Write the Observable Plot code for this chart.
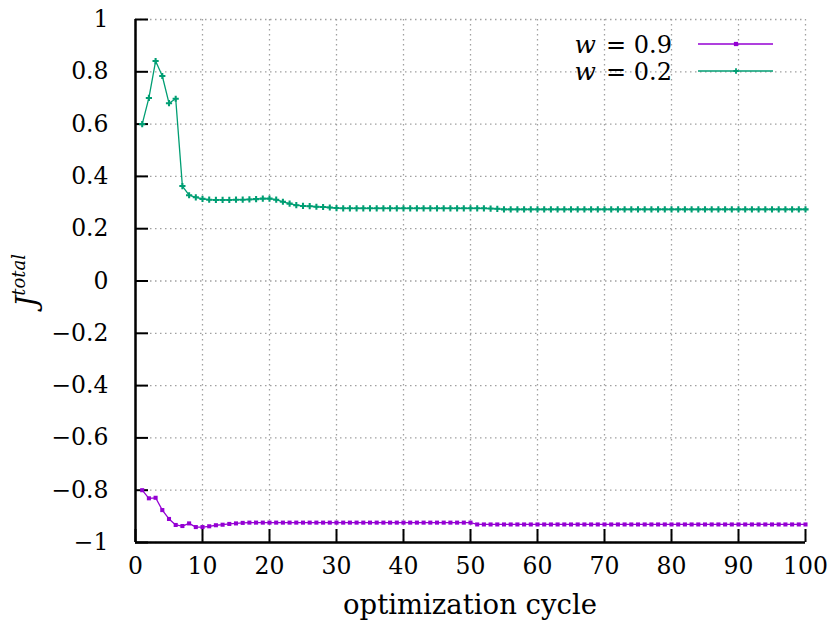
<!DOCTYPE html>
<html>
<head>
<meta charset="utf-8">
<script src="https://cdn.jsdelivr.net/npm/d3@7"></script>
<script src="https://cdn.jsdelivr.net/npm/@observablehq/plot@0.6"></script>
<style>
  html, body { margin: 0; padding: 0; background: #fff; }
</style>
</head>
<body>
<script>
// ---- data ----
const cycles = [
  1,2,3,4,5,6,7,8,9,10,11,12,13,14,15,16,17,18,19,20,
  21,22,23,24,25,26,27,28,29,30,31,32,33,34,35,36,37,38,39,40,
  41,42,43,44,45,46,47,48,49,50,51,52,53,54,55,56,57,58,59,60,
  61,62,63,64,65,66,67,68,69,70,71,72,73,74,75,76,77,78,79,80,
  81,82,83,84,85,86,87,88,89,90,91,92,93,94,95,96,97,98,99,100
];
const seriesW09 = [
  -0.800,-0.831,-0.829,-0.876,-0.910,-0.933,-0.937,-0.927,-0.941,-0.941,
  -0.938,-0.934,-0.932,-0.929,-0.927,-0.925,-0.924,-0.924,-0.924,-0.924,
  -0.924,-0.924,-0.924,-0.924,-0.924,-0.924,-0.924,-0.924,-0.924,-0.924,
  -0.924,-0.924,-0.924,-0.924,-0.924,-0.924,-0.924,-0.924,-0.924,-0.924,
  -0.924,-0.924,-0.924,-0.924,-0.924,-0.924,-0.924,-0.924,-0.924,-0.924,
  -0.931,-0.931,-0.931,-0.931,-0.931,-0.931,-0.931,-0.931,-0.931,-0.931,
  -0.931,-0.931,-0.931,-0.931,-0.931,-0.931,-0.931,-0.931,-0.931,-0.931,
  -0.931,-0.931,-0.931,-0.931,-0.931,-0.931,-0.931,-0.931,-0.931,-0.931,
  -0.931,-0.931,-0.931,-0.931,-0.931,-0.931,-0.931,-0.931,-0.931,-0.931,
  -0.931,-0.931,-0.931,-0.931,-0.931,-0.931,-0.931,-0.931,-0.931,-0.931
];
const seriesW02 = [
  0.600,0.700,0.841,0.784,0.680,0.697,0.363,0.328,0.320,0.314,
  0.311,0.310,0.310,0.310,0.311,0.311,0.312,0.313,0.315,0.315,
  0.311,0.303,0.296,0.290,0.287,0.286,0.284,0.283,0.281,0.279,
  0.278,0.278,0.278,0.278,0.278,0.278,0.278,0.278,0.278,0.278,
  0.278,0.278,0.278,0.278,0.278,0.278,0.278,0.278,0.278,0.278,
  0.278,0.278,0.277,0.276,0.274,0.274,0.274,0.274,0.274,0.274,
  0.274,0.274,0.274,0.274,0.274,0.274,0.274,0.274,0.274,0.274,
  0.274,0.274,0.274,0.274,0.274,0.274,0.274,0.274,0.274,0.274,
  0.274,0.274,0.274,0.274,0.274,0.274,0.274,0.274,0.274,0.274,
  0.274,0.274,0.274,0.274,0.274,0.274,0.274,0.274,0.274,0.274
];
const seriesLabels = ["= 0.9", "= 0.2"];
const seriesColors = ["#9400d3", "#009e73"];
const xTicks = [0,10,20,30,40,50,60,70,80,90,100];
const yTicks = [-1,-0.8,-0.6,-0.4,-0.2,0,0.2,0.4,0.6,0.8,1];
const yTickLabels = ["−1","−0.8","−0.6","−0.4","−0.2","0","0.2","0.4","0.6","0.8","1"];
const xLabel = "optimization cycle";

// ---- layout ----
const W = 829, H = 626;
const mL = 135, mR = 24, mT = 19, mB = 84;
const plotW = W - mL - mR, plotH = H - mT - mB;
const FONT = "DejaVu Serif";
const black = "#000";

const d09 = cycles.map((c, i) => ({x: c, y: seriesW09[i]}));
const d02 = cycles.map((c, i) => ({x: c, y: seriesW02[i]}));

const chart = Plot.plot({
  width: W, height: H,
  marginLeft: mL, marginRight: mR, marginTop: mT, marginBottom: mB,
  x: {domain: [0, 100]},
  y: {domain: [-1, 1]},
  style: {fontFamily: FONT, fontSize: "23px", background: "#fff", color: black},
  marks: [
    Plot.gridX(xTicks, {stroke: "#a0a0a0", strokeOpacity: 1, strokeWidth: 1.3, strokeDasharray: "1.5,3.5"}),
    Plot.gridY(yTicks, {stroke: "#a0a0a0", strokeOpacity: 1, strokeWidth: 1.3, strokeDasharray: "1.5,3.5"}),
    Plot.tickX(xTicks, {x: d => d, insetTop: plotH - 13, stroke: black, strokeWidth: 2}),
    Plot.tickY(yTicks, {y: d => d, insetRight: plotW - 13, stroke: black, strokeWidth: 2}),
    Plot.ruleX([0], {stroke: black, strokeWidth: 2.5}),
    Plot.ruleY([-1], {stroke: black, strokeWidth: 2.5}),
    Plot.axisX(xTicks, {tickSize: 0, tickPadding: 15, label: null, fontSize: 23.5, fontFamily: FONT, tickFormat: d => String(d)}),
    Plot.axisY(yTicks, {tickSize: 0, tickPadding: 27, label: null, fontSize: 23.5, fontFamily: FONT,
      tickFormat: d => yTickLabels[yTicks.indexOf(d)]}),
    Plot.line(d09, {x: "x", y: "y", stroke: seriesColors[0], strokeWidth: 1.3}),
    Plot.dot(d09, {x: "x", y: "y", symbol: "square", r: 2.3, fill: seriesColors[0], stroke: "none"}),
    Plot.line(d02, {x: "x", y: "y", stroke: seriesColors[1], strokeWidth: 1.3}),
    Plot.dot(d02, {x: "x", y: "y", symbol: "cross", r: 2.6, fill: seriesColors[1], stroke: "none"})
  ]
});
document.body.appendChild(chart);

const svg = d3.select(chart);

// y-axis label J^total
const yl = svg.append("text")
  .attr("transform", `translate(36, ${mT + plotH / 2}) rotate(-90)`)
  .attr("text-anchor", "middle")
  .attr("font-family", FONT)
  .attr("font-style", "italic")
  .attr("fill", black);
yl.append("tspan").attr("font-size", 28).text("J");
yl.append("tspan").attr("font-size", 18).attr("dy", -11).text("total");

// x-axis label
svg.append("text")
  .attr("x", mL + plotW / 2).attr("y", 614)
  .attr("text-anchor", "middle")
  .attr("font-family", FONT).attr("font-size", 27.5)
  .attr("fill", black)
  .text(xLabel);

// legend
const legendRows = [
  {label: seriesLabels[0], color: seriesColors[0], symbol: d3.symbolSquare, size: 18},
  {label: seriesLabels[1], color: seriesColors[1], symbol: d3.symbolCross, size: 16}
];
legendRows.forEach((row, i) => {
  const cy = 44 + i * 27;
  svg.append("text")
    .attr("x", 596).attr("y", cy + 9)
    .attr("text-anchor", "end")
    .attr("font-family", FONT).attr("font-size", 25).attr("font-style", "italic")
    .attr("fill", black).text("w");
  svg.append("text")
    .attr("x", 672).attr("y", cy + 9)
    .attr("text-anchor", "end")
    .attr("font-family", FONT).attr("font-size", 24)
    .attr("fill", black).text(row.label);
  svg.append("line")
    .attr("x1", 698).attr("x2", 773).attr("y1", cy).attr("y2", cy)
    .attr("stroke", row.color).attr("stroke-width", 1.3);
  svg.append("path")
    .attr("transform", `translate(736, ${cy})`)
    .attr("d", d3.symbol(row.symbol, row.size)())
    .attr("fill", row.color);
});
</script>
</body>
</html>
